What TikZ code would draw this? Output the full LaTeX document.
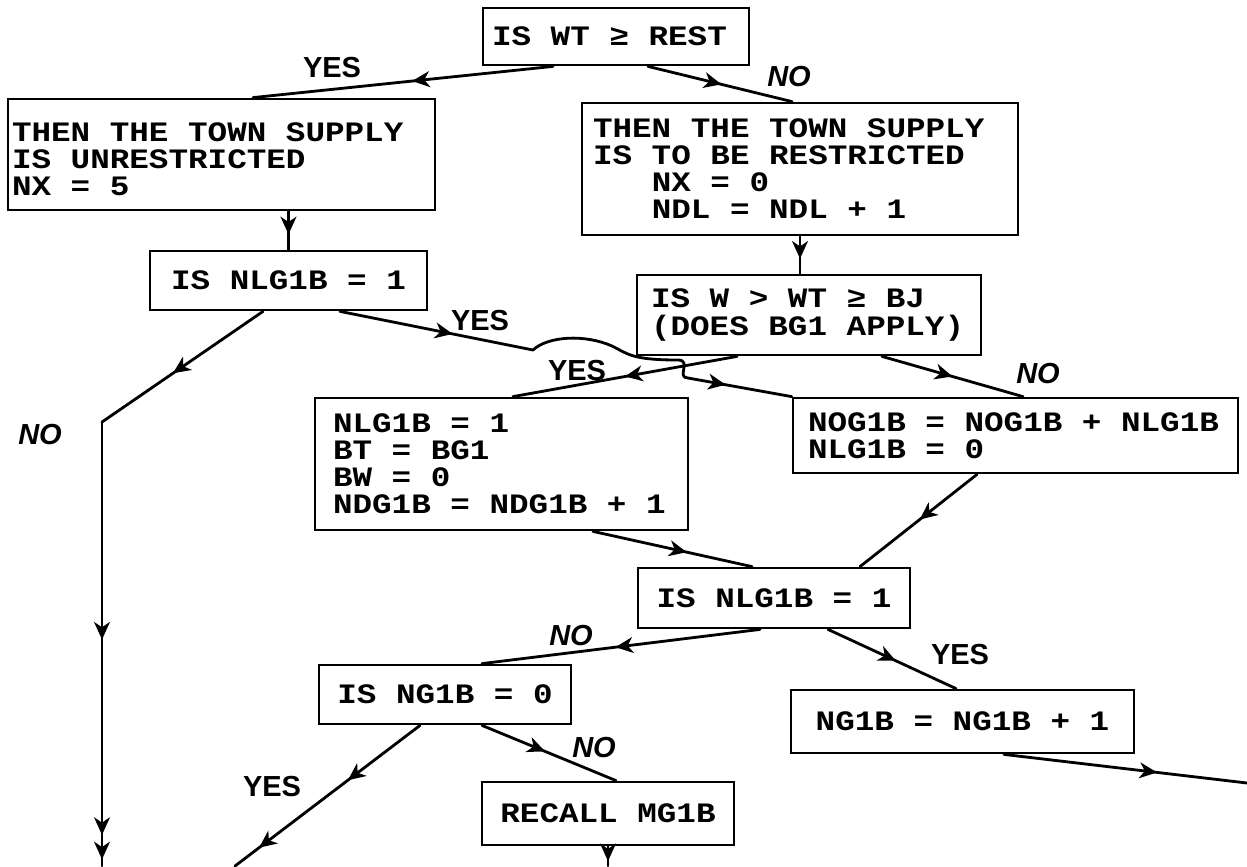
\documentclass[tikz,border=0pt]{standalone}
\usepackage{fontspec}
\usepackage{tikz}
\usetikzlibrary{arrows.meta}
\usetikzlibrary{calc}
\usetikzlibrary{decorations.markings}
\newfontfamily\boxfont{Liberation Mono}[FakeStretch=1.16]
\newfontfamily\lblfont{Liberation Sans}
\tikzset{
    proc_box/.style = {rectangle, draw=black, line width=1.6pt, align=flush left, inner ysep=0pt,
                       font=\boxfont\bfseries\fontsize{16}{15.4}\selectfont},
    flow_line/.style = {line width=1.6pt, line cap=round, line join=round},
    arr_at/.style = {postaction={decorate, decoration={markings, mark=at position #1 with {\arrow{>}}}}},
    yes_lbl/.style = {inner sep=0pt, font=\lblfont\bfseries\fontsize{16.5}{16.5}\selectfont},
    no_lbl/.style = {inner sep=0pt, font=\lblfont\bfseries\itshape\fontsize{16.5}{16.5}\selectfont}
}

\begin{document}
\begin{tikzpicture}
            [x=0.02cm, y=-0.02cm,
            >={Stealth[length=10pt, width=9pt, inset=3pt]}]

            \useasboundingbox (0,0) rectangle (1247,866);

            % boxes
            \node [proc_box, text width=4.96cm, inner xsep=0.18cm, minimum height=1.14cm]
                (qrest) at (616,36.5) {IS WT ≥ REST};
            \node [proc_box, text width=8.38cm, inner xsep=0.08cm, minimum height=2.22cm]
                (unr) at (221.5,154.5) {\rule{0pt}{0.58cm}THEN THE TOWN SUPPLY\\IS UNRESTRICTED\\NX = 5};
            \node [proc_box, text width=8.28cm, inner xsep=0.22cm, minimum height=2.64cm]
                (res) at (800,169) {THEN THE TOWN SUPPLY\\IS TO BE RESTRICTED\\
                \hphantom{NNN}NX = 0\\\hphantom{NNN}NDL = NDL + 1};
            \node [proc_box, minimum width=5.54cm, minimum height=1.18cm]
                (nlgA) at (288.5,280.5) {IS NLG1B = 1};
            \node [proc_box, text width=6.32cm, inner xsep=0.28cm, minimum height=1.6cm]
                (bgq) at (809,315) {IS W > WT ≥ BJ\\(DOES BG1 APPLY)};
            \node [proc_box, text width=6.74cm, inner xsep=0.36cm, minimum height=2.64cm]
                (bgset) at (501.5,464) {NLG1B = 1\\BT = BG1\\BW = 0\\NDG1B = NDG1B + 1};
            \node [proc_box, text width=8.3cm, inner xsep=0.3cm, minimum height=1.5cm]
                (nog) at (1015.5,435.5) {NOG1B = NOG1B + NLG1B\\NLG1B = 0};
            \node [proc_box, minimum width=5.44cm, minimum height=1.2cm]
                (nlgB) at (774,598) {IS NLG1B = 1};
            \node [proc_box, minimum width=5.04cm, minimum height=1.18cm]
                (ngq) at (445,694.5) {IS NG1B = 0};
            \node [proc_box, minimum width=6.86cm, minimum height=1.26cm]
                (nginc) at (962.5,721.5) {NG1B = NG1B + 1};
            \node [proc_box, minimum width=5.04cm, minimum height=1.26cm]
                (recall) at (608,813.5) {RECALL MG1B};

            % loose ends and bends
            \coordinate (noturn) at (102,422);
            \coordinate (noend) at (102,866);
            \coordinate (humpa) at (533,350);
            \coordinate (hopa) at (678,360);
            \coordinate (hopb) at (688,378);
            \coordinate (yesend) at (235,866);
            \coordinate (recallend) at (608,866);
            \coordinate (incend) at (1247,783);

            % connectors
            \draw [flow_line, arr_at=0.47] ($(qrest.south)+(-63,0)$) -- ($(unr.north)+(31.5,0)$);
            \draw [flow_line, arr_at=0.51] ($(qrest.south)+(32,0)$) -- ($(res.north)+(-8,0)$);
            \draw [flow_line, arr_at=0.6] (nlgA.north |- unr.south) -- (nlgA.north);
            \draw [flow_line, arr_at=0.6] (res.south) -- (res.south |- bgq.north);
            \draw [flow_line, arr_at=0.56] ($(nlgA.south)+(-25.5,0)$) -- (noturn);
            \draw [flow_line, arr_at=0.49, arr_at=0.93, arr_at=0.985] (noturn) -- (noend);
            \draw [flow_line, arr_at=0.24, arr_at=0.86] ($(nlgA.south)+(51.5,0)$) -- (humpa)
                .. controls (548,336) and (585,334) .. (612,346)
                .. controls (628,354) and (632,360) .. (hopa)
                .. controls (692,360) and (676,378) .. (hopb) -- (nog.north west);
            \draw [flow_line, arr_at=0.5] ($(bgq.south)+(-72,0)$) -- ($(bgset.north)+(11.5,0)$);
            \draw [flow_line, arr_at=0.5] ($(bgq.south)+(73,0)$) -- ($(nog.north)+(7.5,0)$);
            \draw [flow_line, arr_at=0.59] ($(bgset.south)+(91.5,0)$) -- ($(nlgB.north)+(-22,0)$);
            \draw [flow_line, arr_at=0.49] ($(nog.south)+(-38.5,0)$) -- ($(nlgB.north)+(86,0)$);
            \draw [flow_line, arr_at=0.52] ($(nlgB.south)+(-14,0)$) -- ($(ngq.north)+(37,0)$);
            \draw [flow_line, arr_at=0.53] ($(nlgB.south)+(54,0)$) -- ($(nginc.north)+(-6.5,0)$);
            \draw [flow_line, arr_at=0.39, arr_at=0.87] ($(ngq.south)+(-25,0)$) -- (yesend);
            \draw [flow_line, arr_at=0.47] ($(ngq.south)+(37,0)$) -- ($(recall.north)+(8,0)$);
            \draw [flow_line, arr_at=0.75] (recall.south) -- (recallend);
            \draw [flow_line, arr_at=0.63] ($(nginc.south)+(41.5,0)$) -- (incend);

            % branch labels
            \node [yes_lbl] (yesA) at (332,68) {YES};
            \node [no_lbl] (noA) at (789,77) {NO};
            \node [no_lbl] (noB) at (40,435) {NO};
            \node [yes_lbl] (yesB) at (480,321) {YES};
            \node [yes_lbl] (yesC) at (577,371) {YES};
            \node [no_lbl] (noC) at (1038,374) {NO};
            \node [no_lbl] (noD) at (571,636) {NO};
            \node [yes_lbl] (yesD) at (960,655) {YES};
            \node [yes_lbl] (yesE) at (272,787) {YES};
            \node [no_lbl] (noE) at (594,748) {NO};
\end{tikzpicture}
\end{document}
